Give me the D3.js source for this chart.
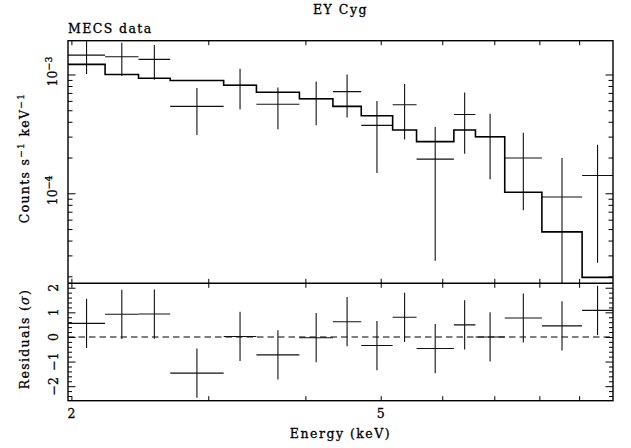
<!DOCTYPE html>
<html>
<head>
<meta charset="utf-8">
<script src="https://cdn.jsdelivr.net/npm/d3@7"></script>
<style>
body { margin: 0; background: #fff; }
text { font-family: "DejaVu Serif", serif; fill: #000; stroke: #000; stroke-width: 0.3px; }
</style>
</head>
<body>
<div id="vizHolder"></div>
<script>
// spectrum bins (keV)
var binLo    = [1.98, 2.21, 2.44, 2.68, 3.14, 3.46, 3.93, 4.34, 4.72, 5.18, 5.56, 6.21, 6.62, 7.22, 8.06, 9.08],
		binHi    = [2.21, 2.44, 2.68, 3.14, 3.46, 3.93, 4.34, 4.72, 5.18, 5.56, 6.21, 6.62, 7.22, 8.06, 9.08, 9.95],
		counts   = [1.455e-3, 1.41e-3, 1.34e-3, 5.39e-4, 8.12e-4, 5.61e-4, 6.24e-4, 7.18e-4, 3.73e-4, 5.57e-4, 1.94e-4, 4.61e-4, 2.99e-4, 1.98e-4, 9.31e-5, 1.41e-4],
		countErr = [4.45e-4, 4.4e-4, 4.35e-4, 2.3e-4, 3.05e-4, 2.15e-4, 2.5e-4, 2.83e-4, 2.25e-4, 2.74e-4, 1.67e-4, 2.46e-4, 1.68e-4, 1.26e-4, 1.05e-4, 1.15e-4],
		model    = [1.216e-3, 1.0e-3, 9.31e-4, 8.9e-4, 8.12e-4, 7.08e-4, 6.24e-4, 5.39e-4, 4.5e-4, 3.41e-4, 2.72e-4, 3.41e-4, 2.99e-4, 1.02e-4, 4.73e-5, 1.96e-5],
		resid    = [0.55, 0.92, 0.93, -1.47, 0.02, -0.73, -0.03, 0.62, -0.35, 0.80, -0.47, 0.49, 0.0, 0.77, 0.45, 1.08],
		residErr = [1, 1, 1, 1, 1, 1, 1, 1, 1, 1, 1, 1, 1, 1, 1, 1];

// ticks
var xTicks      = [2, 3, 4, 5, 6, 7, 8, 9],
		xLabels     = [2, 5],
		countMajor  = [1e-4, 1e-3],
		countMinor  = [2e-5, 3e-5, 4e-5, 5e-5, 6e-5, 7e-5, 8e-5, 9e-5,
		               2e-4, 3e-4, 4e-4, 5e-4, 6e-4, 7e-4, 8e-4, 9e-4],
		countLabels = [{v: 1e-3, exp: '-3'}, {v: 1e-4, exp: '-4'}],
		resMajor    = [-2, -1, 0, 1, 2],
		resMinor    = [-2.4, -2.2, -1.8, -1.6, -1.4, -1.2, -0.8, -0.6, -0.4, -0.2,
		               0.2, 0.4, 0.6, 0.8, 1.2, 1.4, 1.6, 1.8, 2.2];

var width = 631, height = 448,
		left = 68, right = 613,
		topY = 40.7, midY = 283.3, botY = 400.7;

var svg = d3.select('#vizHolder')
		.append('svg')
		.attr('width', width)
		.attr('height', height)
		.style('display', 'block');

svg.append('rect').attr('width', width).attr('height', height).attr('fill', '#fff');

var x = d3.scaleLog().domain([1.98, 9.95]).range([left, right]);
var yTop = d3.scaleLog().domain([1.747e-5, 1.925e-3]).range([midY, topY]);
var yRes = d3.scaleLinear().domain([-2.59, 2.18]).range([botY, midY]);

var defs = svg.append('defs');
defs.append('clipPath').attr('id', 'clipTop')
		.append('rect').attr('x', left).attr('y', topY).attr('width', right - left).attr('height', midY - topY);
defs.append('clipPath').attr('id', 'clipRes')
		.append('rect').attr('x', left).attr('y', midY).attr('width', right - left).attr('height', botY - midY);

function ticks(axis, values, size, tx, ty){
	var g = svg.append('g')
			.attr('transform', 'translate(' + tx + ',' + ty + ')')
			.call(axis.tickValues(values).tickSize(-size).tickSizeOuter(0).tickFormat(''));
	g.select('.domain').remove();
	g.selectAll('line').attr('stroke', '#000').attr('stroke-width', 1);
}

/* ----------- TICKS ----------- */
[topY, midY].forEach(function(yy){
	ticks(d3.axisTop(x), xTicks, 4.5, 0, yy);
});
[midY, botY].forEach(function(yy){
	ticks(d3.axisBottom(x), xTicks, 4.5, 0, yy);
});
ticks(d3.axisLeft(yTop), countMajor, 7.5, left, 0);
ticks(d3.axisLeft(yTop), countMinor, 4.5, left, 0);
ticks(d3.axisRight(yTop), countMajor, 7.5, right, 0);
ticks(d3.axisRight(yTop), countMinor, 4.5, right, 0);
ticks(d3.axisLeft(yRes), resMajor, 7.5, left, 0);
ticks(d3.axisLeft(yRes), resMinor, 4, left, 0);
ticks(d3.axisRight(yRes), resMajor, 7.5, right, 0);
ticks(d3.axisRight(yRes), resMinor, 4, right, 0);

/* ----------- TOP PANEL ----------- */
var topPanel = svg.append('g').attr('clip-path', 'url(#clipTop)');

var bins = binLo.map(function(lo, i){
	return {lo: lo, hi: binHi[i], c: counts[i], e: countErr[i], m: model[i], r: resid[i], re: residErr[i]};
});

function mid(d){ return Math.sqrt(d.lo * d.hi); }

topPanel.selectAll('line.h').data(bins).enter()
		.append('line')
		.attr('x1', function(d){ return x(d.lo); })
		.attr('x2', function(d){ return x(d.hi); })
		.attr('y1', function(d){ return yTop(d.c); })
		.attr('y2', function(d){ return yTop(d.c); })
		.attr('stroke', '#111').attr('stroke-width', 1.1);

topPanel.selectAll('line.v').data(bins).enter()
		.append('line')
		.attr('x1', function(d){ return x(mid(d)); })
		.attr('x2', function(d){ return x(mid(d)); })
		.attr('y1', function(d){ return yTop(d.c + d.e); })
		.attr('y2', function(d){ return yTop(Math.max(d.c - d.e, 1e-7)); })
		.attr('stroke', '#111').attr('stroke-width', 1.1);

var stepPts = bins.map(function(d){ return [d.lo, d.m]; });
stepPts.push([binHi[binHi.length - 1], model[model.length - 1]]);

topPanel.append('path')
		.attr('d', d3.line()
			.x(function(d){ return x(d[0]); })
			.y(function(d){ return yTop(d[1]); })
			.curve(d3.curveStepAfter)(stepPts))
		.attr('fill', 'none')
		.attr('stroke', '#000')
		.attr('stroke-width', 1.6);

/* ----------- RESIDUALS ----------- */
var resPanel = svg.append('g').attr('clip-path', 'url(#clipRes)');

resPanel.append('line')
		.attr('x1', left).attr('x2', right)
		.attr('y1', yRes(0)).attr('y2', yRes(0))
		.attr('stroke', '#000').attr('stroke-width', 1.1)
		.attr('stroke-dasharray', '6.5,4');

resPanel.selectAll('line.h').data(bins).enter()
		.append('line')
		.attr('x1', function(d){ return x(d.lo); })
		.attr('x2', function(d){ return x(d.hi); })
		.attr('y1', function(d){ return yRes(d.r); })
		.attr('y2', function(d){ return yRes(d.r); })
		.attr('stroke', '#111').attr('stroke-width', 1.1);

resPanel.selectAll('line.v').data(bins).enter()
		.append('line')
		.attr('x1', function(d){ return x(mid(d)); })
		.attr('x2', function(d){ return x(mid(d)); })
		.attr('y1', function(d){ return yRes(d.r + d.re); })
		.attr('y2', function(d){ return yRes(d.r - d.re); })
		.attr('stroke', '#111').attr('stroke-width', 1.1);

/* ----------- FRAMES ----------- */
svg.append('rect')
		.attr('x', left).attr('y', topY)
		.attr('width', right - left).attr('height', botY - topY)
		.attr('fill', 'none').attr('stroke', '#000').attr('stroke-width', 1.4);
svg.append('line')
		.attr('x1', left).attr('x2', right)
		.attr('y1', midY).attr('y2', midY)
		.attr('stroke', '#000').attr('stroke-width', 1.4);

/* ----------- TEXT ----------- */
svg.append('text')
		.attr('x', (left + right) / 2).attr('y', 14)
		.attr('text-anchor', 'middle')
		.style('font-size', '12.5px').style('letter-spacing', '1.5px')
		.text('EY Cyg');

svg.append('text')
		.attr('x', left).attr('y', 33)
		.style('font-size', '12.5px').style('letter-spacing', '1.4px')
		.text('MECS data');

svg.append('text')
		.attr('x', (left + right) / 2).attr('y', 438)
		.attr('text-anchor', 'middle')
		.style('font-size', '12.5px').style('letter-spacing', '1.5px')
		.text('Energy (keV)');

svg.selectAll('text.xl').data(xLabels).enter()
		.append('text')
		.attr('x', function(d){ return x(d); })
		.attr('y', 418)
		.attr('text-anchor', 'middle')
		.style('font-size', '12.5px')
		.text(function(d){ return d; });

// rotated y labels
var yl = svg.append('text')
		.attr('transform', 'translate(28.5,158) rotate(-90)')
		.attr('text-anchor', 'middle')
		.style('font-size', '12.5px').style('letter-spacing', '1.3px');
yl.append('tspan').text('Counts s');
yl.append('tspan').attr('dy', -5).style('font-size', '9px').text('\u22121');
yl.append('tspan').attr('dy', 5).text(' keV');
yl.append('tspan').attr('dy', -5).style('font-size', '9px').text('\u22121');

var rl = svg.append('text')
		.attr('transform', 'translate(28.5,339) rotate(-90)')
		.attr('text-anchor', 'middle')
		.style('font-size', '12.5px').style('letter-spacing', '1.3px');
rl.append('tspan').text('Residuals (');
rl.append('tspan').style('font-style', 'italic').text('\u03c3');
rl.append('tspan').text(')');

countLabels.forEach(function(d){
	var t = svg.append('text')
			.attr('transform', 'translate(57,' + (yTop(d.v) - 3) + ') rotate(-90)')
			.attr('text-anchor', 'middle')
			.style('font-size', '12.5px');
	t.append('tspan').text('10');
	t.append('tspan').attr('dy', -5).style('font-size', '9.5px').text('\u2212' + d.exp.slice(1));
});

svg.selectAll('text.rt').data(resMajor).enter()
		.append('text')
		.attr('transform', function(d){ return 'translate(58,' + yRes(d) + ') rotate(-90)'; })
		.attr('text-anchor', 'middle')
		.style('font-size', '12.5px')
		.text(function(d){ return d < 0 ? '\u2212' + (-d) : d; });
</script>
</body>
</html>
